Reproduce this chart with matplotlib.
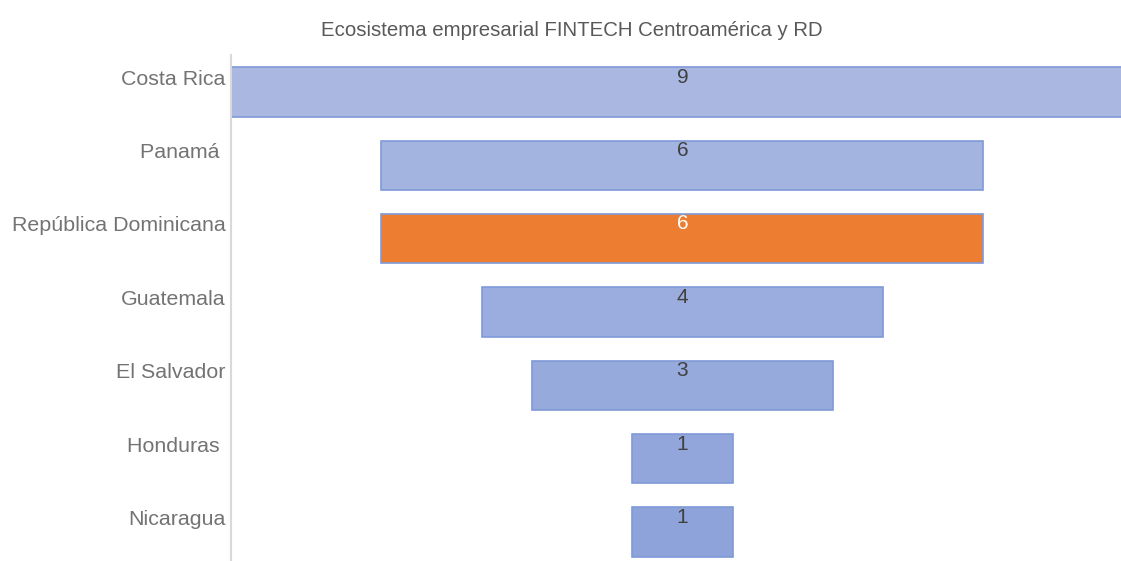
import numpy as np
import matplotlib.pyplot as plt
from matplotlib.colors import to_rgb

plt.rcParams['font.family'] = ['Liberation Sans', 'DejaVu Sans']

countries = ["Costa Rica", "Panamá ", "República Dominicana", "Guatemala",
             "El Salvador", "Honduras ", "Nicaragua"]
values = [9, 6, 6, 4, 3, 1, 1]
highlight = "República Dominicana"

title = "Ecosistema empresarial FINTECH Centroamérica y RD"

# blue shades get a bit stronger toward the bottom of the funnel
c_top = np.array(to_rgb("#a9b7e1"))
c_bot = np.array(to_rgb("#8da3da"))
orange = "#ed7d31"

fig = plt.figure(figsize=(11.21, 5.61), dpi=100)
ax = fig.add_axes([231 / 1121, 0, 1 - 231 / 1121, 506 / 561])

vmax = max(values)
y = np.arange(len(values))
n = len(values)
for i, (name, v) in enumerate(zip(countries, values)):
    if name == highlight:
        fc, tc = orange, "white"
    else:
        fc = c_top + (c_bot - c_top) * i / (n - 1)
        tc = "#404040"
    ax.barh(i, v, left=(vmax - v) / 2, height=0.67, color=fc,
            edgecolor="#7f9ad8", linewidth=1.2)
    ax.text(vmax / 2, i - 0.2, str(v), ha="center", va="center",
            fontsize=15, color=tc)

ax.set_xlim(0, 889 / 100.2)
ax.set_ylim(6.395, -0.504)
ax.set_yticks(y - 0.2)
ax.set_yticklabels(countries, fontsize=15.4, color="#737373")
ax.tick_params(axis="y", length=0, pad=4)
ax.set_xticks([])
for s in ["top", "right", "bottom"]:
    ax.spines[s].set_visible(False)
ax.spines["left"].set_color("#d9d9d9")
ax.spines["left"].set_linewidth(1.5)

fig.text(572 / 1121, 1 - 31 / 561, title, ha="center", va="center",
         fontsize=14.7, color="#595959")

plt.savefig("out.png", dpi=100)
